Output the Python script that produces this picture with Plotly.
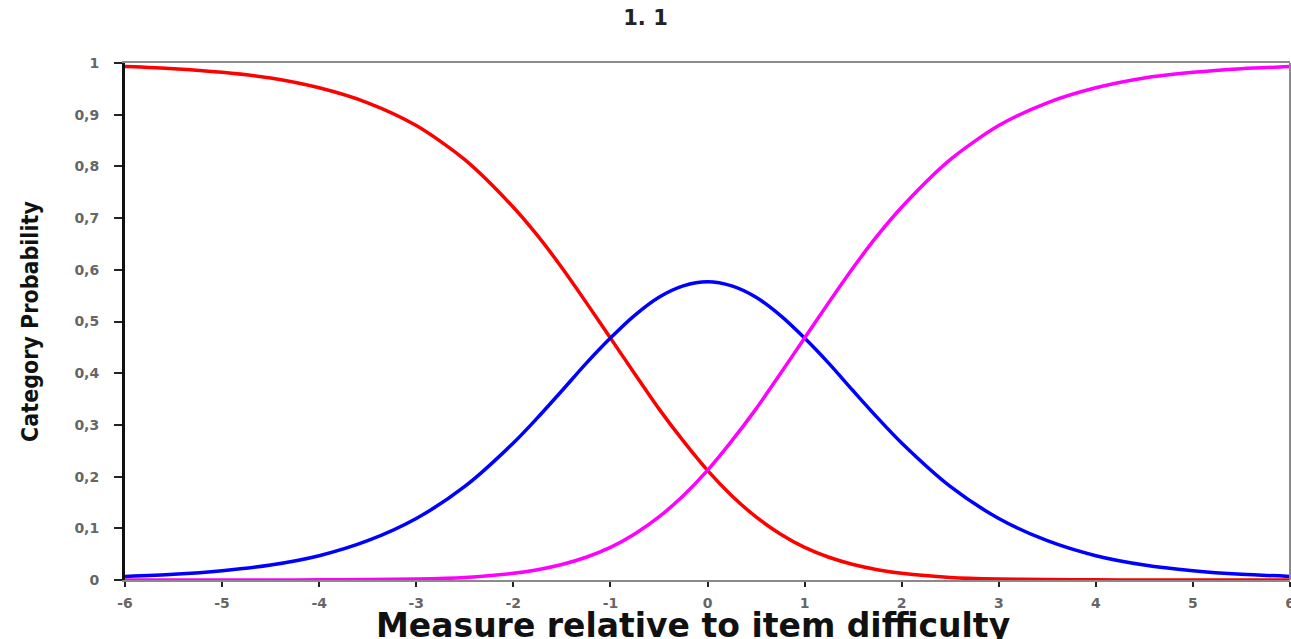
import plotly.graph_objs as go

# values (measure relative to item difficulty)
measure = [-6, -5.5, -5, -4.5, -4, -3.5, -3, -2.5, -2, -1.75, -1.5, -1.25, -1, -0.75, -0.5, -0.25, 0,
           0.25, 0.5, 0.75, 1, 1.25, 1.5, 1.75, 2, 2.5, 3, 3.5, 4, 4.5, 5, 5.5, 6]
cat_0 = [0.993, 0.989, 0.982, 0.971, 0.952, 0.923, 0.879, 0.813, 0.721, 0.666, 0.604, 0.537, 0.468,
         0.399, 0.331, 0.269, 0.212, 0.163, 0.122, 0.089, 0.063, 0.044, 0.030, 0.020, 0.013,
         0.005, 0.002, 0.001, 0.0003, 0.0001, 0.0, 0.0, 0.0]
cat_1 = [0.007, 0.011, 0.018, 0.029, 0.047, 0.076, 0.119, 0.181, 0.265, 0.314, 0.366, 0.419, 0.468,
         0.512, 0.547, 0.569, 0.577, 0.569, 0.547, 0.512, 0.468, 0.419, 0.366, 0.314, 0.265,
         0.181, 0.119, 0.076, 0.047, 0.029, 0.018, 0.011, 0.007]
cat_2 = [0.0, 0.0, 0.0, 0.0001, 0.0003, 0.001, 0.002, 0.005, 0.013, 0.020, 0.030, 0.044, 0.063,
         0.089, 0.122, 0.163, 0.212, 0.269, 0.331, 0.399, 0.468, 0.537, 0.604, 0.666, 0.721,
         0.813, 0.879, 0.923, 0.952, 0.971, 0.982, 0.989, 0.993]

y_ticks = [0, 0.1, 0.2, 0.3, 0.4, 0.5, 0.6, 0.7, 0.8, 0.9, 1]
y_labels = ['0', '0,1', '0,2', '0,3', '0,4', '0,5', '0,6', '0,7', '0,8', '0,9', '1']
x_ticks = [-6, -5, -4, -3, -2, -1, 0, 1, 2, 3, 4, 5, 6]
x_labels = ['-6', '-5', '-4', '-3', '-2', '-1', '0', '1', '2', '3', '4', '5', '6']

tick_font = dict(family='DejaVu Sans', size=14, color='#666666', weight='bold')

fig = go.Figure()
for vals, col in [(cat_0, '#ff0000'), (cat_1, '#0000ff'), (cat_2, '#ff00ff')]:
    fig.add_trace(go.Scatter(x=measure, y=vals, mode='lines',
                             line=dict(color=col, width=3.5, shape='spline', smoothing=0.8),
                             showlegend=False, hoverinfo='skip'))

fig.update_layout(
    width=1291, height=639,
    margin=dict(l=125, r=1, t=63, b=59),
    paper_bgcolor='white', plot_bgcolor='white',
    title=dict(text='<b>1. 1</b>', x=0.5, xanchor='center', y=0.972, yanchor='middle',
               font=dict(family='DejaVu Sans', size=21, color='#222')),
)
fig.update_xaxes(
    range=[-6, 6], tickvals=x_ticks, ticktext=x_labels, showgrid=False, zeroline=False,
    showline=True, linecolor='#8a8a8a', linewidth=2, mirror=True,
    ticks='outside', ticklen=5, tickwidth=2, tickcolor='#222',
    tickfont=tick_font, ticklabelstandoff=4, ticklabeloverflow='allow',
    automargin=False,
)
fig.update_yaxes(
    range=[0, 1], tickvals=y_ticks, ticktext=y_labels, showgrid=False, zeroline=False,
    showline=True, linecolor='#111', linewidth=3,
    ticks='outside', ticklen=8, tickwidth=2, tickcolor='#222',
    tickfont=tick_font, ticklabelstandoff=12, automargin=False,
    title=dict(text='<b>Category Probability</b>', standoff=30,
               font=dict(family='Liberation Sans Narrow, DejaVu Sans Condensed, Liberation Sans', size=23, color='#111')),
)
# x axis title, placed by hand so it sits low like the original
fig.add_annotation(text='<b>Measure relative to item difficulty</b>', xref='paper', yref='paper',
                   x=0.4876, y=0, xanchor='center', yanchor='top', yshift=-24, showarrow=False,
                   font=dict(family='DejaVu Sans', size=33, color='#111'))
# right border of the plot frame
fig.add_shape(type='line', xref='paper', yref='paper', x0=1, x1=1, y0=0, y1=1,
              line=dict(color='#8a8a8a', width=2))

# drop the default page margin so the figure fills the window exactly
fig.write_html('out.html', config={'displayModeBar': False},
               post_script="document.body.style.margin='0';document.body.style.overflow='hidden';")
